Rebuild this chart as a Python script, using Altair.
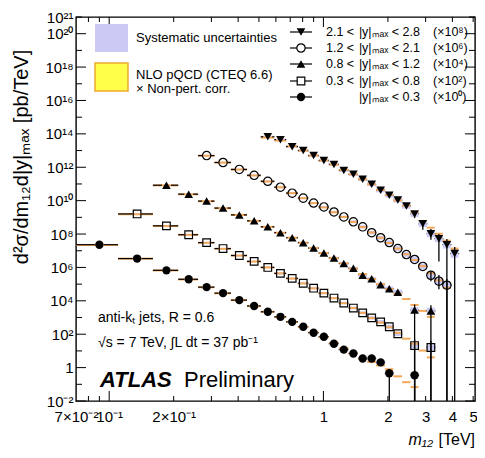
import altair as alt
import pandas as pd

FONT = "Liberation Sans"

# dijet-mass bin edges [TeV]
EDGES = [0.07, 0.11, 0.16, 0.21, 0.26, 0.31, 0.37, 0.44, 0.51, 0.59, 0.67, 0.76,
         0.85, 0.95, 1.06, 1.18, 1.31, 1.45, 1.60, 1.76, 1.94, 2.12, 2.33, 2.55,
         2.78, 3.04, 3.31, 3.61, 3.93, 4.27, 4.64]

# |y|max < 0.3  (x 10^0)
a_bins = [0, 1, 2, 3, 4, 5, 6, 7, 8, 9, 10, 11, 12, 13, 14, 15, 16, 17, 18, 19, 20, 23]
a_val = [2.3e7, 3.4e6, 6.7e5, 1.95e5, 6.6e4, 2.9e4, 1.1e4, 4.9e3, 2.2e3, 1.1e3, 550,
         280, 123, 71, 27, 12, 7.0, 3.5, 3.5, 2.05, 0.46, 0.35]
a_syst = [0.10, 0.10, 0.10, 0.10, 0.10, 0.10, 0.11, 0.11, 0.12, 0.12, 0.13, 0.13,
          0.14, 0.15, 0.16, 0.18, 0.20, 0.22, 0.25, 0.28, 0.32, 0.40]
a_th_bins = [0, 1, 2, 3, 4, 5, 6, 7, 8, 9, 10, 11, 12, 13, 14, 15, 16, 17, 18, 19, 20, 21, 22, 23]
a_th = [2.2e7, 3.3e6, 6.6e5, 1.9e5, 6.5e4, 2.8e4, 1.1e4, 4.8e3, 2.2e3, 1.05e3, 540,
        270, 125, 65, 30, 14, 7.0, 3.4, 2.2, 1.35, 0.8, 0.30, 0.134, 0.068]

# 0.3 < |y|max < 0.8  (x 10^2)
b_bins = [1, 2, 3, 4, 5, 6, 7, 8, 9, 10, 11, 12, 13, 14, 15, 16, 17, 18, 19, 20, 21, 23, 25]
b_val = [1.6e7, 3.1e6, 9.1e5, 3.05e5, 1.35e5, 5.2e4, 2.3e4, 1.0e4, 4.4e3, 2.2e3, 1.13e3,
         570, 290, 146, 74, 37, 19, 9.5, 5.5, 2.8, 1.07, 0.21, 0.16]
b_syst = [0.10, 0.10, 0.10, 0.10, 0.10, 0.11, 0.11, 0.12, 0.12, 0.13, 0.13, 0.14,
          0.15, 0.16, 0.18, 0.20, 0.22, 0.25, 0.28, 0.32, 0.36, 0.45, 0.50]
b_th_bins = [1, 2, 3, 4, 5, 6, 7, 8, 9, 10, 11, 12, 13, 14, 15, 16, 17, 18, 19, 20, 21, 22, 23, 24, 25]
b_th = [1.55e7, 3.0e6, 9.0e5, 3.0e5, 1.3e5, 5.1e4, 2.25e4, 1.0e4, 4.4e3, 2.15e3, 1.1e3,
        560, 285, 145, 72, 37, 19, 9.3, 5.0, 2.6, 1.2, 0.54, 0.27, 0.105, 0.041]

# 0.8 < |y|max < 1.2  (x 10^4)
c_bins = [2, 3, 4, 5, 6, 7, 8, 9, 10, 11, 12, 13, 14, 15, 16, 17, 18, 19, 20, 21, 23, 25]
c_val = [8.4e6, 2.45e6, 9.4e5, 3.6e5, 1.4e5, 6.2e4, 2.7e4, 1.2e4, 6.0e3, 3.05e3, 1.44e3,
         730, 370, 174, 88, 34, 21, 9.2, 5.3, 3.3, 0.28, 0.25]
c_syst = [0.10, 0.10, 0.10, 0.11, 0.11, 0.12, 0.12, 0.13, 0.13, 0.14, 0.15, 0.16,
          0.18, 0.20, 0.22, 0.25, 0.28, 0.32, 0.36, 0.40, 0.50, 0.55]
c_th_bins = [2, 3, 4, 5, 6, 7, 8, 9, 10, 11, 12, 13, 14, 15, 16, 17, 18, 19, 20, 21, 22, 23, 24, 25]
c_th = [8.2e6, 2.4e6, 9.2e5, 3.5e5, 1.4e5, 6.1e4, 2.7e4, 1.2e4, 6.0e3, 3.0e3, 1.45e3,
        720, 360, 175, 85, 40, 20, 10, 5.0, 2.6, 1.28, 0.56, 0.25, 0.11]

# 1.2 < |y|max < 2.1  (x 10^6)
d_bins = [4, 5, 6, 7, 8, 9, 10, 11, 12, 13, 14, 15, 16, 17, 18, 19, 20, 21, 22, 23, 24, 25, 26, 27]
d_val = [5.0e6, 1.93e6, 7.4e5, 3.3e5, 1.45e5, 6.4e4, 2.8e4, 1.42e4, 7.2e3, 4.2e3, 2.1e3,
         1.06e3, 540, 270, 120, 60, 31, 13.5, 5.9, 3.0, 1.15, 0.34, 0.15, 0.086]
d_syst = [0.10, 0.11, 0.11, 0.12, 0.12, 0.13, 0.13, 0.14, 0.15, 0.16, 0.18, 0.20,
          0.22, 0.25, 0.28, 0.32, 0.36, 0.40, 0.45, 0.50, 0.55, 0.60, 0.65, 0.70]
d_th_bins = d_bins
d_th = [4.9e6, 1.9e6, 7.3e5, 3.2e5, 1.4e5, 6.3e4, 2.8e4, 1.4e4, 7.1e3, 3.9e3, 2.0e3,
        1.05e3, 530, 260, 125, 60, 29, 13.5, 6.2, 2.8, 1.2, 0.45, 0.17, 0.06]

# 2.1 < |y|max < 2.8  (x 10^8)
e_bins = [8, 9, 10, 11, 12, 13, 14, 15, 16, 17, 18, 19, 20, 21, 22, 23, 24, 25, 26, 27, 28]
e_val = [6.7e5, 4.5e5, 1.72e5, 1.0e5, 5.0e4, 2.5e4, 1.47e4, 6.5e3, 3.8e3, 1.9e3, 960,
         420, 210, 108, 48, 16, 4.1, 1.04, 0.53, 0.23, 0.068]
e_syst = [0.15, 0.15, 0.16, 0.17, 0.18, 0.20, 0.22, 0.24, 0.26, 0.28, 0.30, 0.33,
          0.36, 0.40, 0.45, 0.50, 0.55, 0.60, 0.65, 0.70, 0.80]
e_th_bins = e_bins
e_th = [6.0e5, 4.0e5, 1.8e5, 1.0e5, 5.0e4, 2.6e4, 1.45e4, 7.0e3, 3.8e3, 1.9e3, 960,
        440, 220, 105, 50, 20, 6.0, 2.4, 1.04, 0.40, 0.135]

# statistical error bars drawn (series index, bin, low, high) - low 1e-12 means "down to zero"
err_series = [0, 0, 1, 1, 2, 2, 3, 3, 3, 4, 4, 4, 4, 4, 4]
err_bin = [20, 23, 23, 25, 23, 25, 25, 26, 27, 23, 24, 25, 26, 27, 28]
err_lo = [1e-12, 1e-12, 1e-12, 1e-12, 1e-12, 1e-12, 0.15, 0.05, 1e-12, 9, 1.8, 0.45, 0.023, 1e-12, 1e-12]
err_hi = [0.8, 0.7, 0.5, 0.4, 0.6, 0.55, 0.6, 0.35, 0.2, 24, 7, 2.0, 1.0, 0.5, 0.17]

scale_exp = [0, 2, 4, 6, 8]
shapes = ["circle", "square", "triangle-up", "circle", "triangle-down"]
filled = [True, False, True, False, True]
sizes = [70, 58, 75, 70, 75]
leg_lo = ["", "0.3 <", "0.8 <", "1.2 <", "2.1 <"]
leg_hi = ["|y|ₘₐₓ < 0.3", "|y|ₘₐₓ < 0.8", "|y|ₘₐₓ < 1.2", "|y|ₘₐₓ < 2.1", "|y|ₘₐₓ < 2.8"]
leg_mult = ["(×10⁰)", "(×10²)", "(×10⁴)", "(×10⁶)", "(×10⁸)"]

SERIES = [
    (a_bins, a_val, a_syst, a_th_bins, a_th),
    (b_bins, b_val, b_syst, b_th_bins, b_th),
    (c_bins, c_val, c_syst, c_th_bins, c_th),
    (d_bins, d_val, d_syst, d_th_bins, d_th),
    (e_bins, e_val, e_syst, e_th_bins, e_th),
]


def center(i):
    return (EDGES[i] + EDGES[i + 1]) / 2


pts, ths = [], []
for si, (bins, vals, syst, tb, tv) in enumerate(SERIES):
    f = 10.0 ** scale_exp[si]
    for b, v, s in zip(bins, vals, syst):
        pts.append(dict(s=si, m=center(b), lo=EDGES[b], hi=EDGES[b + 1], v=v * f,
                        slo=v * f / (1 + s), shi=v * f * (1 + s)))
    for b, t in zip(tb, tv):
        ths.append(dict(s=si, lo=EDGES[b], hi=EDGES[b + 1], t=t * f))
pts_df = pd.DataFrame(pts)
th_df = pd.DataFrame(ths)

errs = []
for si, b, lo, hi in zip(err_series, err_bin, err_lo, err_hi):
    f = 10.0 ** scale_exp[si]
    errs.append(dict(m=center(b), elo=lo * f, ehi=hi * f))
err_df = pd.DataFrame(errs)

W, H = 399, 384
xs = alt.Scale(type="log", domain=[0.07, 5.1], nice=False)
ys = alt.Scale(type="log", domain=[1e-2, 1e21], nice=False)

SUP = str.maketrans("0123456789-", "⁰¹²³⁴⁵⁶⁷⁸⁹⁻")


def pw(e):
    return "1" if e == 0 else "10" + str(e).translate(SUP)


y_label_exps = [-2, 0, 2, 4, 6, 8, 10, 12, 14, 16, 18, 20, 21]
y_expr = ""
for e in y_label_exps:
    y_expr += f"datum.value < {10.0 ** e * 3:g} ? '{pw(e)}' : "
y_expr += "''"

x_axis = alt.Axis(values=[0.07, 0.1, 0.2, 1, 2, 3, 4, 5],
                  labelExpr="datum.value < 0.08 ? '7×10⁻²' : datum.value < 0.15 ? '10⁻¹' : "
                            "datum.value < 0.5 ? '2×10⁻¹' : format(datum.value, '.0f')",
                  ticks=False, domain=False, grid=False, title=None,
                  labelFont=FONT, labelFontSize=15, labelColor="black",
                  labelPadding=8, labelOverlap=False, labelFlush=False, labelBound=False)
y_axis = alt.Axis(values=[10.0 ** e for e in y_label_exps], labelExpr=y_expr,
                  ticks=False, domain=False, grid=False, title=None,
                  labelFont=FONT, labelFontSize=15, labelColor="black",
                  labelPadding=3, labelOverlap=False, labelFlush=False, labelBound=False)


def X(f):
    return alt.X(f, scale=xs, axis=x_axis)


def Y(f):
    return alt.Y(f, scale=ys, axis=y_axis)


syst = alt.Chart(pts_df).mark_rect(color="#cacaf4", clip=True).encode(
    x=X("lo:Q"), x2="hi:Q", y=Y("slo:Q"), y2="shi:Q")

theory = alt.Chart(th_df).mark_rule(color="#f3a85a", strokeWidth=2, clip=True).encode(
    x=X("lo:Q"), x2="hi:Q", y=Y("t:Q"))

hbar_l = alt.Chart(pts_df).mark_rule(color="black", strokeWidth=1.2, x2Offset=-4.5).encode(
    x=X("lo:Q"), x2="m:Q", y=Y("v:Q"))
hbar_r = alt.Chart(pts_df).mark_rule(color="black", strokeWidth=1.2, xOffset=4.5).encode(
    x=X("m:Q"), x2="hi:Q", y=Y("v:Q"))

vbar = alt.Chart(err_df).mark_rule(color="black", strokeWidth=1.3, clip=True).encode(
    x=X("m:Q"), y=Y("elo:Q"), y2="ehi:Q")

markers = []
for si in range(5):
    markers.append(
        alt.Chart(pts_df[pts_df.s == si]).mark_point(
            shape=shapes[si], filled=filled[si], size=sizes[si], color="black",
            strokeWidth=1.2, opacity=1).encode(x=X("m:Q"), y=Y("v:Q")))

# inward tick marks on all four sides
x_major = [0.1, 1]
x_minor = [0.08, 0.09, 0.2, 0.3, 0.4, 0.5, 0.6, 0.7, 0.8, 0.9, 2, 3, 4, 5]
y_long = [10.0 ** e for e in range(-2, 22, 2)]
y_short = [10.0 ** e for e in range(-1, 22, 2)]


def xticks(vals, length):
    d = pd.DataFrame({"t": vals})
    bot = alt.Chart(d).mark_rule(color="black", strokeWidth=1).encode(
        x=X("t:Q"), y=alt.value(H), y2=alt.value(H - length))
    top = alt.Chart(d).mark_rule(color="black", strokeWidth=1).encode(
        x=X("t:Q"), y=alt.value(0), y2=alt.value(length))
    return [bot, top]


def yticks(vals, length):
    d = pd.DataFrame({"t": vals})
    left = alt.Chart(d).mark_rule(color="black", strokeWidth=1).encode(
        y=Y("t:Q"), x=alt.value(0), x2=alt.value(length))
    right = alt.Chart(d).mark_rule(color="black", strokeWidth=1).encode(
        y=Y("t:Q"), x=alt.value(W), x2=alt.value(W - length))
    return [left, right]


ticks = xticks(x_major, 10) + xticks(x_minor, 5) + yticks(y_long, 10) + yticks(y_short, 6)


def txt(s, x, y, size, align="left", angle=0, **kw):
    return alt.Chart(pd.DataFrame({"l": [s]})).mark_text(
        align=align, baseline="middle", fontSize=size, font=FONT, color="black",
        angle=angle, **kw).encode(x=alt.value(x), y=alt.value(y), text="l:N")


def box(x1, x2, y1, y2, fill, stroke=None):
    kw = dict(fill=fill)
    if stroke:
        kw.update(stroke=stroke, strokeWidth=1.5)
    return alt.Chart(pd.DataFrame({"l": [0]})).mark_rect(**kw).encode(
        x=alt.value(x1), x2=alt.value(x2), y=alt.value(y1), y2=alt.value(y2))


annots = [
    box(19, 52, 7, 35, "#cacaf4"),
    box(19, 52, 46, 74, "#ffff4a", "#f0a830"),
    txt("Systematic uncertainties", 60, 21, 13),
    txt("NLO pQCD (CTEQ 6.6)", 60, 58, 13),
    txt("× Non-pert. corr.", 60, 72, 13),
    txt("anti-kₜ  jets,  R = 0.6", 22, 301, 14),
    txt("√s = 7 TeV, ∫L dt = 37 pb⁻¹", 22, 326, 14),
    txt("ATLAS", 24, 363, 22, fontWeight="bold", fontStyle="italic"),
    txt("Preliminary", 108, 363, 22),
    txt("[TeV]", W, 423, 16, align="right"),
    txt("m₁₂", W - 42, 423, 16, align="right", fontStyle="italic"),
    txt("d²σ/dm₁₂d|y|ₘₐₓ  [pb/TeV]", -54, 140, 20, align="center", angle=270),
]

leg_rows = [80, 64, 47, 31, 15]
for si in range(5):
    ry = leg_rows[si]
    annots.append(alt.Chart(pd.DataFrame({"l": [0]})).mark_rule(color="black", strokeWidth=1.2).encode(
        x=alt.value(214), x2=alt.value(236), y=alt.value(ry)))
    annots.append(alt.Chart(pd.DataFrame({"l": [0]})).mark_point(
        shape=shapes[si], filled=filled[si], size=sizes[si], color="black",
        fill="black" if filled[si] else "white", strokeWidth=1.2, opacity=1).encode(
        x=alt.value(225), y=alt.value(ry)))
    if leg_lo[si]:
        annots.append(txt(leg_lo[si], 250, ry, 12.5))
    annots.append(txt(leg_hi[si], 344, ry, 12.5, align="right"))
    annots.append(txt(leg_mult[si], 357, ry, 12.5))

chart = alt.layer(syst, theory, hbar_l, hbar_r, vbar, *markers, *ticks, *annots).properties(
    width=W, height=H,
    autosize=alt.AutoSizeParams(type="none"),
    padding={"left": 68, "top": 9, "right": 2, "bottom": 49},
    background="white",
).configure_view(stroke="black", strokeWidth=1.4)

chart.save("out.html", embed_options={"renderer": "svg", "actions": False})
